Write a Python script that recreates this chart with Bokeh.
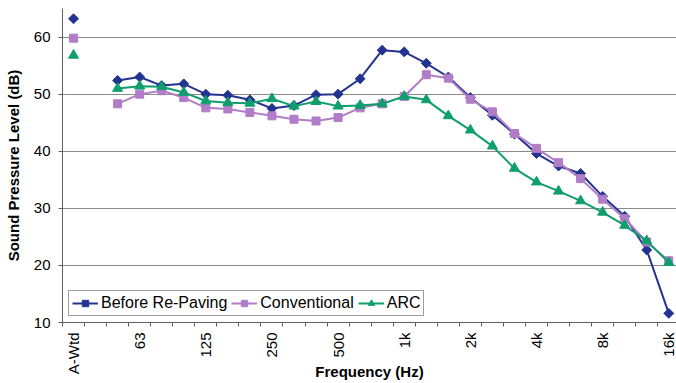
import math
from bokeh.plotting import figure
from bokeh.models import Range1d, FixedTicker, Legend, LegendItem
from bokeh.embed import file_html
from bokeh.resources import INLINE

NaN = float("nan")

bands = ["A-Wtd", "40", "50", "63", "80", "100", "125", "160", "200", "250",
         "315", "400", "500", "630", "800", "1k", "1.25k", "1.6k", "2k", "2.5k",
         "3.15k", "4k", "5k", "6.3k", "8k", "10k", "12.5k", "16k"]
shown_labels = ["A-Wtd", "63", "125", "250", "500", "1k", "2k", "4k", "8k", "16k"]

before = [63.2, NaN, 52.4, 53.0, 51.5, 51.8, 50.0, 49.8, 49.0, 47.5,
          48.0, 49.9, 50.0, 52.7, 57.7, 57.4, 55.4, 53.0, 49.4, 46.3,
          43.0, 39.6, 37.4, 36.1, 32.1, 28.6, 22.7, 11.6]
conventional = [59.8, NaN, 48.3, 50.0, 50.6, 49.4, 47.6, 47.4, 46.8, 46.2,
                45.6, 45.3, 45.9, 47.6, 48.3, 49.6, 53.4, 52.8, 49.1, 46.9,
                43.1, 40.5, 38.0, 35.2, 31.6, 28.2, 24.1, 20.8]
arc = [56.8, NaN, 51.0, 51.4, 51.3, 50.3, 48.8, 48.5, 48.4, 49.2,
       47.9, 48.7, 47.9, 48.0, 48.3, 49.6, 49.0, 46.2, 43.7, 40.9,
       37.0, 34.6, 33.0, 31.3, 29.3, 27.0, 24.3, 20.5]

y_ticks = [10, 20, 30, 40, 50, 60]

FONT = "Liberation Sans"
x = list(range(len(bands)))

p = figure(width=676, height=383, x_range=Range1d(-0.5, 27.35), y_range=Range1d(10, 65),
           output_backend="svg", toolbar_location=None,
           min_border_left=62, min_border_right=0, min_border_top=8, min_border_bottom=0)
p.outline_line_color = None
p.background_fill_color = "white"
p.border_fill_color = "white"

# grid
p.xgrid.visible = False
p.ygrid.ticker = FixedTicker(ticks=y_ticks[1:] + [65])
p.ygrid.grid_line_color = "#8a8a8a"
p.ygrid.grid_line_width = 1

# x axis
label_idx = [bands.index(s) for s in shown_labels]
xax = p.xaxis[0]
xax.ticker = FixedTicker(ticks=label_idx, minor_ticks=[i - 0.5 for i in range(len(bands) + 1)])
xax.major_label_overrides = {i: bands[i] for i in label_idx}
xax.major_label_orientation = math.pi / 2
xax.major_tick_out = 0
xax.major_tick_in = 0
xax.minor_tick_out = 4
xax.minor_tick_in = 0
xax.minor_tick_line_color = "#606060"
xax.axis_line_color = "#606060"
xax.major_label_text_font = FONT
xax.major_label_text_font_size = "15px"
xax.major_label_text_color = "black"
xax.major_label_standoff = 6
xax.axis_label = "Frequency (Hz)"
xax.axis_label_text_font = FONT
xax.axis_label_text_font_style = "bold"
xax.axis_label_text_font_size = "15px"
xax.axis_label_text_color = "black"
xax.axis_label_standoff = -14

# y axis
yax = p.yaxis[0]
yax.ticker = FixedTicker(ticks=y_ticks)
yax.major_tick_out = 4
yax.major_tick_in = 0
yax.minor_tick_out = 0
yax.minor_tick_in = 0
yax.major_tick_line_color = "#606060"
yax.axis_line_color = "#606060"
yax.major_label_text_font = FONT
yax.major_label_text_font_size = "15px"
yax.major_label_text_color = "black"
yax.major_label_standoff = 8
yax.axis_label = "Sound Pressure Level (dB)"
yax.axis_label_text_font = FONT
yax.axis_label_text_font_style = "bold"
yax.axis_label_text_font_size = "15px"
yax.axis_label_text_color = "black"
yax.axis_label_standoff = 9

series = [
    ("Before Re-Paving", before, "#24338f", "square", 7, math.pi / 4),
    ("Conventional", conventional, "#b07dc6", "square", 8, 0.0),
    ("ARC", arc, "#0f9e6e", "triangle", 10, 0.0),
]

items = []
for name, vals, color, marker, size, ang in series:
    ln = p.line(x, vals, line_color=color, line_width=2)
    sc = p.scatter(x, vals, marker=marker, size=size, angle=ang,
                   fill_color=color, line_color=color)
    items.append(LegendItem(label=name, renderers=[ln, sc]))

legend = Legend(items=items, orientation="horizontal", location="bottom_left")
legend.margin = 6
legend.padding = 3
legend.spacing = 4
legend.label_standoff = 3
legend.glyph_width = 26
legend.glyph_height = 16
legend.label_height = 16
legend.label_text_font = FONT
legend.label_text_font_size = "16px"
legend.label_text_color = "black"
legend.border_line_color = "#404040"
legend.border_line_width = 1
legend.background_fill_color = "white"
legend.background_fill_alpha = 1
p.add_layout(legend, "center")

open("out.html", "w").write(file_html(p, INLINE))
